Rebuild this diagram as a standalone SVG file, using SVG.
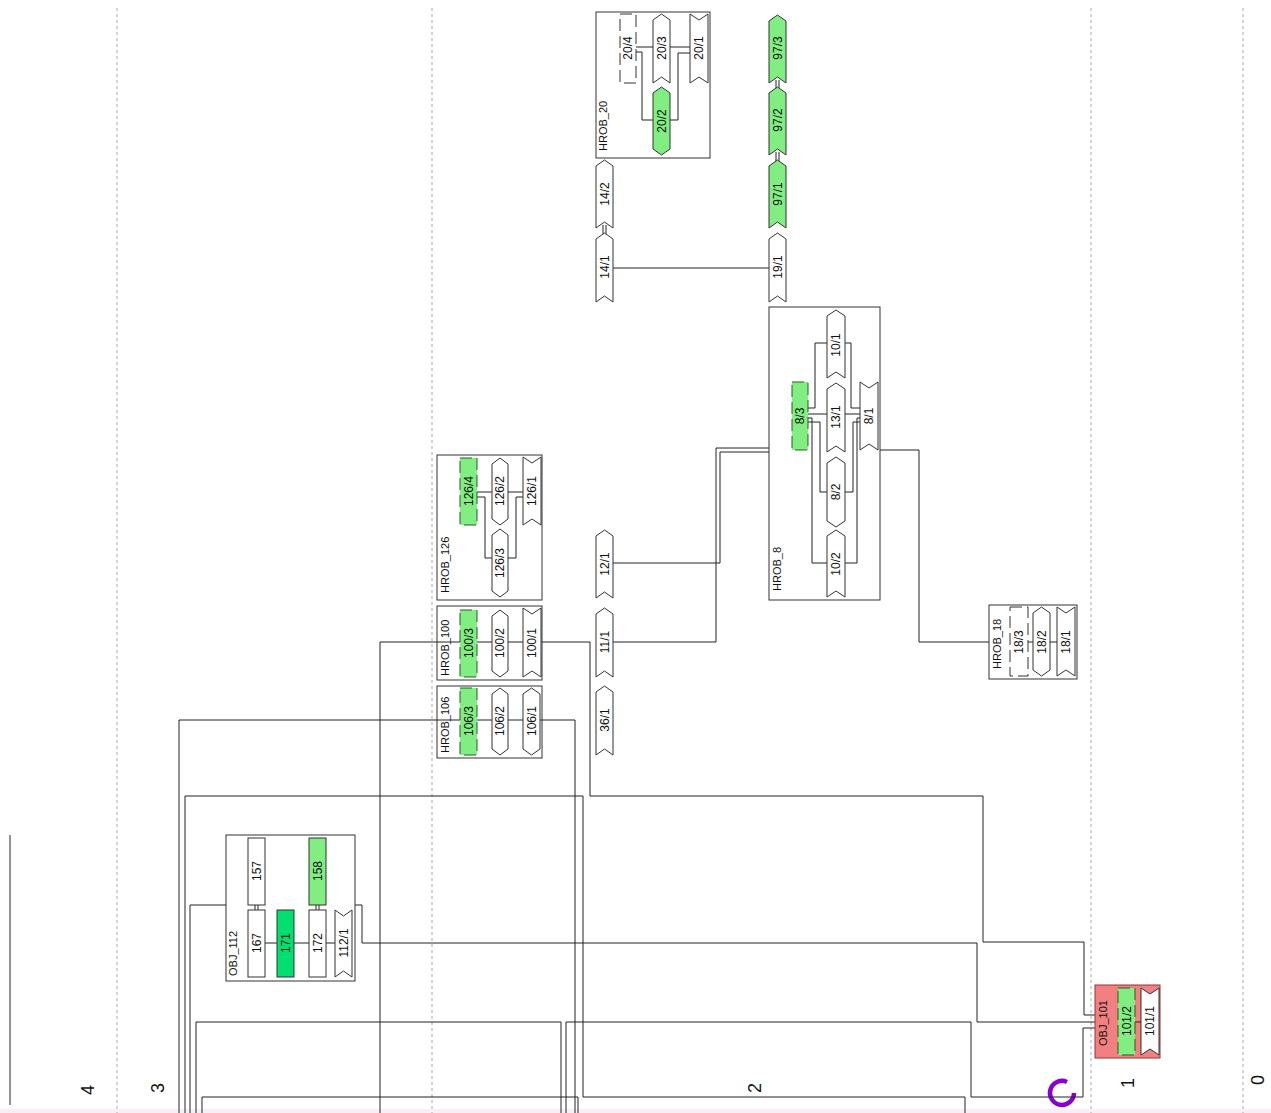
<svg xmlns="http://www.w3.org/2000/svg" width="1271" height="1113" viewBox="0 0 1271 1113">
<style>
.ln{fill:none;stroke:#222;stroke-width:1}
.bx{fill:none;stroke:#333;stroke-width:1}
.sh{fill:#fff;stroke:#333;stroke-width:1}
.gs{fill:#80ee80;stroke:#333;stroke-width:1}
.br{fill:#fff;stroke:#333;stroke-width:1;stroke-dasharray:12 5}
.gb{fill:#80ee80;stroke:#2b5a2b;stroke-width:1;stroke-dasharray:12 5}
.grid{stroke:#aaa;stroke-width:1;stroke-dasharray:3 3}
.lb{font-family:"Liberation Sans",Arial,sans-serif;font-size:12px;fill:#111;text-anchor:middle;dominant-baseline:central}
.bl{font-family:"Liberation Sans",Arial,sans-serif;font-size:11px;fill:#111;text-anchor:start;dominant-baseline:central}
.dg{font-family:"Liberation Sans",Arial,sans-serif;font-size:18px;fill:#111;text-anchor:middle;dominant-baseline:central}
</style>
<rect x="0" y="0" width="1271" height="1113" fill="#fff"/>
<rect x="0" y="1109" width="1271" height="4" fill="#f7eef7"/>
<g id="grid">
<line class="grid" x1="117" y1="8" x2="117" y2="1113"/>
<line class="grid" x1="432" y1="8" x2="432" y2="1113"/>
<line class="grid" x1="1091" y1="8" x2="1091" y2="1113"/>
<line class="grid" x1="1243" y1="8" x2="1243" y2="1113"/>
<line x1="10" y1="835" x2="10" y2="1105" stroke="#222" stroke-width="1"/>
</g>
<g id="zones">
<text class="dg" transform="translate(88,1090) rotate(-90)">4</text>
<text class="dg" transform="translate(158,1088) rotate(-90)">3</text>
<text class="dg" transform="translate(755,1088) rotate(-90)">2</text>
<text class="dg" transform="translate(1128,1083) rotate(-90)">1</text>
<text class="dg" transform="translate(1258,1080) rotate(-90)">0</text>
<path d="M1074,1093 A12,12 0 1 1 1067,1082" fill="none" stroke="#8a00d4" stroke-width="4.5"/>
</g>
<g id="connectors">
<polyline class="ln" points="613,268 769,268"/>
<polyline class="ln" points="635,47 690,47"/>
<polyline class="ln" points="636,52 642,52 642,120 653,120"/>
<polyline class="ln" points="670,120 678,120 678,53 690,53"/>
<polyline class="ln" points="808,408 815,408 815,343 827,343"/>
<polyline class="ln" points="845,343 851,343 851,408 860,408"/>
<polyline class="ln" points="808,414 860,414"/>
<polyline class="ln" points="808,418 812,418 812,563 827,563"/>
<polyline class="ln" points="845,563 857,563 857,418 860,418"/>
<polyline class="ln" points="808,422 820,422 820,492 827,492"/>
<polyline class="ln" points="845,492 853,492 853,422 860,422"/>
<polyline class="ln" points="613,563 720,563 720,452 769,452"/>
<polyline class="ln" points="613,642 716,642 716,448 769,448"/>
<polyline class="ln" points="880,450 919,450 919,642 989,642"/>
<polyline class="ln" points="1028,642 1057,642"/>
<polyline class="ln" points="477,492 523,492"/>
<polyline class="ln" points="477,497 485,497 485,558 492,558"/>
<polyline class="ln" points="508,558 516,558 516,497 523,497"/>
<polyline class="ln" points="380,1113 380,642 437,642"/>
<polyline class="ln" points="437,642 523,642"/>
<polyline class="ln" points="542,642 590,642 590,796 983,796 983,942 1084,942 1084,1015 1095,1015"/>
<polyline class="ln" points="179,1113 179,720 437,720"/>
<polyline class="ln" points="437,720 523,720"/>
<polyline class="ln" points="540,720 575,720 575,1113"/>
<polyline class="ln" points="190,1113 190,905 226,905"/>
<polyline class="ln" points="265,943 335,943"/>
<polyline class="ln" points="355,905 362,905 362,943 977,943 977,1022 1095,1022"/>
<polyline class="ln" points="185,1113 185,796 583,796 583,1097 965,1097 965,1113"/>
<polyline class="ln" points="196,1113 196,1022 561,1022 561,1113"/>
<polyline class="ln" points="202,1113 202,1097 578,1097 578,1113"/>
<polyline class="ln" points="566,1113 566,1022 971,1022 971,1097 1083,1097 1083,1028 1095,1028"/>
<path class="ln" d="M603,225V234M606,225V234M776,80V88M779,80V88M776,152V161M779,152V161M255,905V910M258,905V910M316,905V910M319,905V910"/>
</g>
<g id="HROB_20">
<rect class="bx" x="596" y="12" width="114" height="146"/>
<text class="bl" transform="translate(603,151) rotate(-90)">HROB_20</text>
<rect class="br" x="620" y="14" width="16" height="69"/>
<text class="lb" transform="translate(628,48) rotate(-90)">20/4</text>
<polygon class="sh" points="653,20 661.5,14 670,20 670,83 661.5,77 653,83"/>
<text class="lb" transform="translate(661.5,48) rotate(-90)">20/3</text>
<polygon class="sh" points="690,14 699,20 708,14 708,83 699,77 690,83"/>
<text class="lb" transform="translate(699,48) rotate(-90)">20/1</text>
<polygon class="gs" points="653,93 661.5,87 670,93 670,149 661.5,155 653,149"/>
<text class="lb" transform="translate(661.5,121) rotate(-90)">20/2</text>
</g>
<g id="n97_3"><polygon class="gs" points="769,21 777.5,15 786,21 786,83 777.5,77 769,83"/><text class="lb" transform="translate(777.5,48) rotate(-90)">97/3</text></g>
<g id="n97_2"><polygon class="gs" points="769,93 777.5,87 786,93 786,155 777.5,149 769,155"/><text class="lb" transform="translate(777.5,120) rotate(-90)">97/2</text></g>
<g id="n97_1"><polygon class="gs" points="769,166 777.5,160 786,166 786,228 777.5,222 769,228"/><text class="lb" transform="translate(777.5,194) rotate(-90)">97/1</text></g>
<g id="n19_1"><polygon class="sh" points="769,239 777.5,233 786,239 786,302 777.5,296 769,302"/><text class="lb" transform="translate(777.5,267) rotate(-90)">19/1</text></g>
<g id="n14_2"><polygon class="sh" points="596,166 604.5,160 613,166 613,228 604.5,222 596,228"/><text class="lb" transform="translate(604.5,194) rotate(-90)">14/2</text></g>
<g id="n14_1"><polygon class="sh" points="596,239 604.5,233 613,239 613,302 604.5,296 596,302"/><text class="lb" transform="translate(604.5,267) rotate(-90)">14/1</text></g>
<g id="HROB_8">
<rect class="bx" x="769" y="307" width="111" height="293"/>
<text class="bl" transform="translate(777,591) rotate(-90)">HROB_8</text>
<polygon class="sh" points="827,316 836,310 845,316 845,378 836,372 827,378"/>
<text class="lb" transform="translate(836,345) rotate(-90)">10/1</text>
<polygon class="sh" points="827,389 836,383 845,389 845,452 836,446 827,452"/>
<text class="lb" transform="translate(836,417) rotate(-90)">13/1</text>
<polygon class="sh" points="827,463 836,457 845,463 845,521 836,527 827,521"/>
<text class="lb" transform="translate(836,492) rotate(-90)">8/2</text>
<polygon class="sh" points="827,536 836,530 845,536 845,597 836,591 827,597"/>
<text class="lb" transform="translate(836,564) rotate(-90)">10/2</text>
<rect class="gb" x="792" y="382" width="16" height="68"/>
<text class="lb" transform="translate(800,416) rotate(-90)">8/3</text>
<polygon class="sh" points="860,382 869,388 878,382 878,450 869,444 860,450"/>
<text class="lb" transform="translate(869,416) rotate(-90)">8/1</text>
</g>
<g id="HROB_18">
<rect class="bx" x="989" y="605" width="88" height="74"/>
<text class="bl" transform="translate(997,669) rotate(-90)">HROB_18</text>
<rect class="br" x="1010" y="607" width="18" height="69"/>
<text class="lb" transform="translate(1019,642) rotate(-90)">18/3</text>
<polygon class="sh" points="1033,613 1041.5,607 1050,613 1050,670 1041.5,676 1033,670"/>
<text class="lb" transform="translate(1041.5,642) rotate(-90)">18/2</text>
<polygon class="sh" points="1057,607 1066,613 1075,607 1075,676 1066,670 1057,676"/>
<text class="lb" transform="translate(1066,642) rotate(-90)">18/1</text>
</g>
<g id="n12_1"><polygon class="sh" points="596,536 604.5,530 613,536 613,598 604.5,592 596,598"/><text class="lb" transform="translate(604.5,564) rotate(-90)">12/1</text></g>
<g id="n11_1"><polygon class="sh" points="596,614 604.5,608 613,614 613,677 604.5,671 596,677"/><text class="lb" transform="translate(604.5,642) rotate(-90)">11/1</text></g>
<g id="n36_1"><polygon class="sh" points="596,692 604.5,686 613,692 613,755 604.5,749 596,755"/><text class="lb" transform="translate(604.5,720) rotate(-90)">36/1</text></g>
<g id="HROB_126">
<rect class="bx" x="437" y="455" width="105" height="145"/>
<text class="bl" transform="translate(445,593) rotate(-90)">HROB_126</text>
<rect class="gb" x="460" y="458" width="17" height="67"/>
<text class="lb" transform="translate(468.5,491) rotate(-90)">126/4</text>
<polygon class="sh" points="492,464 500,458 508,464 508,519 500,525 492,519"/>
<text class="lb" transform="translate(500,491) rotate(-90)">126/2</text>
<polygon class="sh" points="523,457 532,463 541,457 541,525 532,519 523,525"/>
<text class="lb" transform="translate(532,491) rotate(-90)">126/1</text>
<polygon class="sh" points="492,535 500,529 508,535 508,591 500,597 492,591"/>
<text class="lb" transform="translate(500,563) rotate(-90)">126/3</text>
</g>
<g id="HROB_100">
<rect class="bx" x="437" y="606" width="105" height="74"/>
<text class="bl" transform="translate(445,676) rotate(-90)">HROB_100</text>
<rect class="gb" x="460" y="610" width="17" height="67"/>
<text class="lb" transform="translate(468.5,643) rotate(-90)">100/3</text>
<polygon class="sh" points="492,616 500,610 508,616 508,671 500,677 492,671"/>
<text class="lb" transform="translate(500,643) rotate(-90)">100/2</text>
<polygon class="sh" points="523,608 532,614 541,608 541,677 532,671 523,677"/>
<text class="lb" transform="translate(532,643) rotate(-90)">100/1</text>
</g>
<g id="HROB_106">
<rect class="bx" x="437" y="686" width="105" height="72"/>
<text class="bl" transform="translate(445,753) rotate(-90)">HROB_106</text>
<rect class="gb" x="460" y="688" width="17" height="67"/>
<text class="lb" transform="translate(468.5,721) rotate(-90)">106/3</text>
<polygon class="sh" points="492,694 500,688 508,694 508,749 500,755 492,749"/>
<text class="lb" transform="translate(500,721) rotate(-90)">106/2</text>
<polygon class="sh" points="523,694 531.5,688 540,694 540,749 531.5,755 523,749"/>
<text class="lb" transform="translate(531.5,721) rotate(-90)">106/1</text>
</g>
<g id="OBJ_112">
<rect class="bx" x="226" y="835" width="129" height="146"/>
<text class="bl" transform="translate(233,976) rotate(-90)">OBJ_112</text>
<rect class="sh" x="248" y="838" width="17" height="67"/>
<text class="lb" transform="translate(256.5,871) rotate(-90)">157</text>
<rect class="sh" x="248" y="910" width="17" height="67"/>
<text class="lb" transform="translate(256.5,943) rotate(-90)">167</text>
<rect x="277" y="910" width="17" height="67" fill="#00e070" stroke="#333"/>
<text class="lb" transform="translate(285.5,943) rotate(-90)">171</text>
<rect class="sh" x="309" y="910" width="17" height="67"/>
<text class="lb" transform="translate(317.5,943) rotate(-90)">172</text>
<rect class="gs" x="309" y="838" width="17" height="67"/>
<text class="lb" transform="translate(317.5,871) rotate(-90)">158</text>
<polygon class="sh" points="335,910 343.5,916 352,910 352,977 343.5,971 335,977"/>
<text class="lb" transform="translate(343.5,943) rotate(-90)">112/1</text>
</g>
<g id="OBJ_101">
<rect x="1095" y="985" width="65" height="73" fill="#f28080" stroke="#8a3a3a"/>
<text class="bl" transform="translate(1103,1046) rotate(-90)">OBJ_101</text>
<line class="ln" x1="1135" y1="1022" x2="1141" y2="1022"/>
<rect class="gb" x="1118" y="988" width="17" height="67"/>
<text class="lb" transform="translate(1126.5,1021) rotate(-90)">101/2</text>
<polygon class="sh" points="1141,988 1150,994 1159,988 1159,1055 1150,1049 1141,1055"/>
<text class="lb" transform="translate(1150,1021) rotate(-90)">101/1</text>
</g>
</svg>
